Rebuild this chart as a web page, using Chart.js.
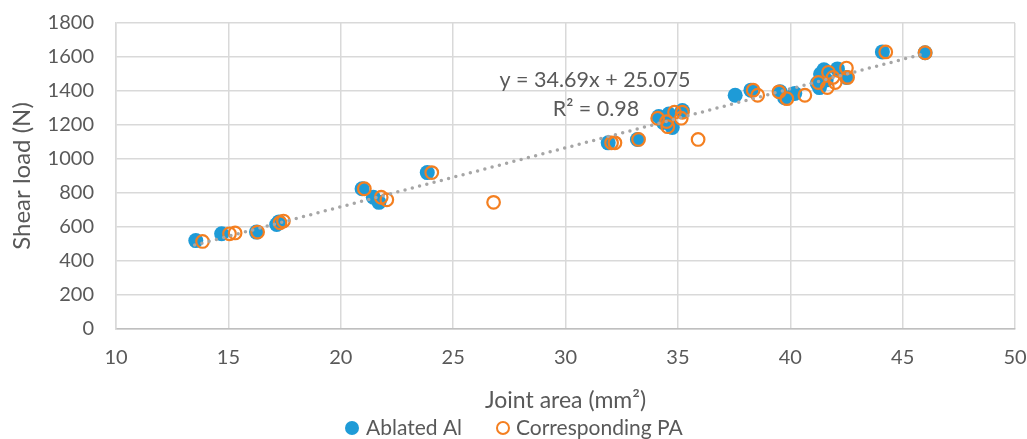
<!DOCTYPE html>
<html>
<head>
<meta charset="utf-8">
<script src="https://cdn.jsdelivr.net/npm/chart.js@4/dist/chart.umd.min.js"></script>
<style>
  html, body { margin: 0; padding: 0; background: #fff; }
  #wrap { width: 1027px; height: 439px; position: relative; }
</style>
</head>
<body>
<div id="wrap"><canvas id="grafico"></canvas></div>
<script>
// joint area (mm2) / shear load (N)
const ablatedAl = [
  [13.55, 520], [14.7, 560], [16.25, 570], [17.15, 615], [17.25, 630],
  [20.95, 825], [21.45, 775], [21.7, 745], [23.85, 920],
  [31.9, 1095], [33.2, 1115], [34.15, 1250], [34.6, 1265], [34.35, 1215],
  [34.75, 1185], [35.2, 1285], [37.55, 1375], [38.25, 1405], [39.55, 1395],
  [39.75, 1360], [40.2, 1385], [41.2, 1445], [41.35, 1500], [41.5, 1525],
  [41.3, 1420], [41.6, 1465], [42.1, 1530], [42.5, 1480], [44.1, 1630], [46.0, 1625]
];
const correspondingPA = [
  [13.85, 515], [15.05, 560], [15.3, 565], [16.3, 570], [17.3, 625], [17.45, 635],
  [21.05, 825], [21.8, 775], [22.05, 760], [24.05, 920], [26.8, 745],
  [32.05, 1095], [32.2, 1095], [33.25, 1115], [34.1, 1240], [34.5, 1220],
  [34.55, 1190], [34.85, 1275], [35.2, 1275], [35.15, 1240], [35.9, 1115],
  [38.35, 1405], [38.55, 1375], [39.5, 1395], [39.85, 1355], [40.65, 1375],
  [41.25, 1450], [41.7, 1510], [41.65, 1420], [41.9, 1480], [42.0, 1450],
  [42.5, 1535], [42.55, 1480], [44.25, 1630], [46.0, 1625]
];
// linear trendline as printed on the chart
const trendSlope = 34.69;
const trendIntercept = 25.075;
const trendRange = [13.5, 46.0];
const trendText = ['y = 34.69x + 25.075', 'R\u00B2 = 0.98'];

const xTicks = [10, 50, 5];
const yTicks = [0, 1800, 200];

const toPts = arr => arr.map(p => ({ x: p[0], y: p[1] }));
const trendPts = trendRange.map(x => ({ x, y: trendSlope * x + trendIntercept }));

const cinza = '#595959';
const azul = '#1E9BD7';
const laranja = '#F47F20';
const fonte = 'Lato, "Open Sans", sans-serif';

// trendline label + legend, drawn by hand so spacing matches the original
const extras = {
  id: 'extras',
  afterDatasetsDraw(chart) {
    const ctx = chart.ctx;
    ctx.save();
    ctx.fillStyle = cinza;
    ctx.font = '21.5px ' + fonte;
    ctx.textAlign = 'center';
    ctx.textBaseline = 'middle';
    ctx.fillText(trendText[0], 595, 80);
    ctx.fillText(trendText[1], 596, 109);

    const yl = 428;
    ctx.font = '21px ' + fonte;
    ctx.textAlign = 'left';
    ctx.beginPath();
    ctx.arc(352, yl, 7, 0, Math.PI * 2);
    ctx.fillStyle = azul;
    ctx.fill();
    ctx.fillStyle = cinza;
    ctx.fillText(chart.data.datasets[0].label, 366, yl);
    ctx.beginPath();
    ctx.arc(503, yl, 6, 0, Math.PI * 2);
    ctx.strokeStyle = laranja;
    ctx.lineWidth = 2;
    ctx.stroke();
    ctx.fillText(chart.data.datasets[1].label, 516, yl);
    ctx.restore();
  }
};

new Chart(document.getElementById('grafico'), {
  type: 'scatter',
  data: {
    datasets: [
      {
        label: 'Ablated Al',
        data: toPts(ablatedAl),
        backgroundColor: azul,
        borderColor: azul,
        pointRadius: 7.5,
        pointBorderWidth: 0,
        order: 2
      },
      {
        label: 'Corresponding PA',
        data: toPts(correspondingPA),
        backgroundColor: 'rgba(0,0,0,0)',
        borderColor: laranja,
        pointRadius: 6.3,
        pointBorderWidth: 2.2,
        order: 1
      },
      {
        label: 'trend',
        data: trendPts,
        showLine: true,
        pointRadius: 0,
        borderColor: '#A6A6A6',
        borderWidth: 3.5,
        borderCapStyle: 'round',
        borderDash: [0, 7.5],
        order: 0
      }
    ]
  },
  options: {
    responsive: true,
    maintainAspectRatio: false,
    animation: false,
    layout: { padding: { top: 23, right: 12, left: 0, bottom: 0 } },
    plugins: {
      tooltip: { enabled: false },
      legend: { display: false }
    },
    scales: {
      x: {
        type: 'linear',
        min: xTicks[0], max: xTicks[1],
        ticks: { stepSize: xTicks[2], color: cinza, font: { size: 20, family: fonte }, padding: 17 },
        grid: { color: '#D9D9D9', lineWidth: 1.5, drawTicks: false },
        border: { color: '#BFBFBF', width: 1.5 },
        title: { display: true, text: 'Joint area (mm\u00B2)', color: cinza, font: { size: 23, family: fonte }, padding: { top: 0, bottom: 25 } },
        afterFit: s => { s.height = 110; s.paddingLeft = 0; s.paddingRight = 0; }
      },
      y: {
        min: yTicks[0], max: yTicks[1],
        ticks: {
          stepSize: yTicks[2], color: cinza, font: { size: 20, family: fonte }, padding: 22,
          callback: v => String(v)
        },
        grid: { color: '#D9D9D9', lineWidth: 1.5, drawTicks: false },
        border: { color: '#D9D9D9', width: 1.5 },
        title: { display: true, text: 'Shear load (N)', color: cinza, font: { size: 24, family: fonte }, padding: { top: 8, bottom: 0 } },
        afterFit: s => { s.width = 116; s.paddingTop = 0; s.paddingBottom = 0; }
      }
    }
  },
  plugins: [extras]
});
</script>
</body>
</html>
